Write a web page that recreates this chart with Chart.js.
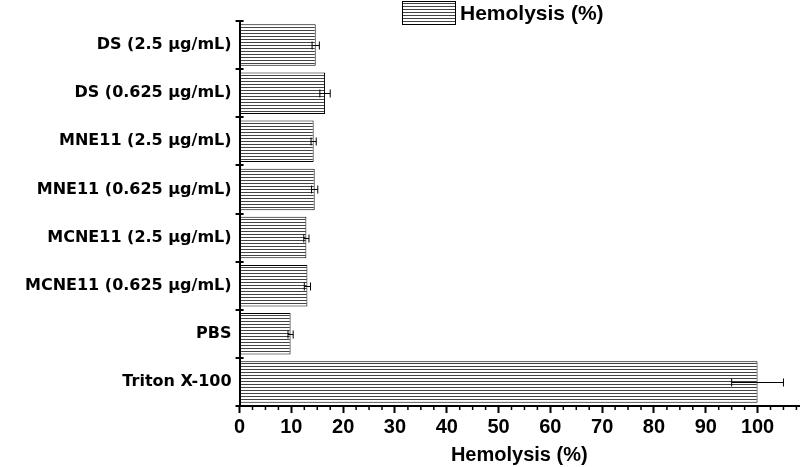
<!DOCTYPE html>
<html>
<head>
<meta charset="utf-8">
<script src="https://cdn.jsdelivr.net/npm/chart.js@4"></script>
<style>
  html, body { margin: 0; padding: 0; background: #fff; }
  #wrap { width: 800px; height: 467px; position: relative; }
</style>
</head>
<body>
<div id="wrap"><canvas id="chart" aria-label="hemolysis bar chart" role="img"></canvas></div>
<script>
// categories, top to bottom
const categories = [
  "DS (2.5 µg/mL)",
  "DS (0.625 µg/mL)",
  "MNE11 (2.5 µg/mL)",
  "MNE11 (0.625 µg/mL)",
  "MCNE11 (2.5 µg/mL)",
  "MCNE11 (0.625 µg/mL)",
  "PBS",
  "Triton X-100"
];
const hemolysis = [14.7, 16.5, 14.3, 14.5, 12.9, 13.1, 9.85, 100];
const errors = [0.7, 1.0, 0.5, 0.6, 0.5, 0.6, 0.5, 5];
const xTicks = [0, 10, 20, 30, 40, 50, 60, 70, 80, 90, 100];
const xMax = 108;

// horizontal hatch fill
function hatch() {
  var c = document.createElement("canvas");
  c.width = 8;
  c.height = 3;
  var g = c.getContext("2d");
  g.fillStyle = "#fff";
  g.fillRect(0, 0, 8, 3);
  g.fillStyle = "#444";
  g.fillRect(0, 0, 8, 1);
  return g.createPattern(c, "repeat");
}
var hatchFill = hatch();

// error bars, minor ticks and legend
var extras = {
  id: "extras",
  afterDatasetsDraw: function (chart) {
    var ctx = chart.ctx;
    var x = chart.scales.x;
    var y = chart.scales.y;
    ctx.save();
    ctx.strokeStyle = "#000";
    ctx.lineWidth = 1;
    hemolysis.forEach(function (v, i) {
      var py = Math.round(y.getPixelForValue(i)) + 0.5;
      var x1 = x.getPixelForValue(v - errors[i]);
      var x2 = x.getPixelForValue(v + errors[i]);
      ctx.beginPath();
      ctx.moveTo(x1, py);
      ctx.lineTo(x2, py);
      ctx.moveTo(x1, py - 4);
      ctx.lineTo(x1, py + 4);
      ctx.moveTo(x2, py - 4);
      ctx.lineTo(x2, py + 4);
      ctx.stroke();
    });
    ctx.restore();
  },
  afterDraw: function (chart) {
    var ctx = chart.ctx;
    var x = chart.scales.x;
    var area = chart.chartArea;
    ctx.save();
    // minor ticks every 2.5
    ctx.strokeStyle = "#000";
    ctx.lineWidth = 1.5;
    ctx.beginPath();
    for (var v = 2.5; v <= xMax; v += 2.5) {
      if (v % 10 === 0) continue;
      var px = x.getPixelForValue(v);
      ctx.moveTo(px, area.bottom);
      ctx.lineTo(px, area.bottom + 4);
    }
    ctx.stroke();
    // y boundary ticks across the axis
    var y = chart.scales.y;
    ctx.lineWidth = 2;
    ctx.beginPath();
    for (var i = 0; i <= categories.length; i++) {
      var py = Math.round(y.getPixelForValue(i - 0.5));
      ctx.moveTo(area.left - 4, py);
      ctx.lineTo(area.left + 4, py);
    }
    ctx.stroke();
    // legend
    var lx = 402, ly = 1, lw = 54, lh = 24;
    ctx.fillStyle = hatchFill;
    ctx.fillRect(lx, ly, lw, lh);
    ctx.lineWidth = 1;
    ctx.strokeRect(lx + 0.5, ly + 0.5, lw - 1, lh - 1);
    ctx.fillStyle = "#000";
    ctx.font = "bold 21px 'Liberation Sans', Arial, sans-serif";
    ctx.textBaseline = "middle";
    ctx.textAlign = "left";
    ctx.fillText(chart.data.datasets[0].label, lx + lw + 4, ly + lh / 2 + 1);
    ctx.restore();
  }
};

var chart = new Chart(document.getElementById("chart").getContext("2d"), {
  type: "bar",
  data: {
    labels: categories,
    datasets: [
      {
        label: "Hemolysis (%)",
        data: hemolysis,
        backgroundColor: hatchFill,
        borderColor: "#000",
        borderWidth: 1,
        borderSkipped: false,
        categoryPercentage: 0.86,
        barPercentage: 1
      }
    ]
  },
  options: {
    indexAxis: "y",
    responsive: true,
    maintainAspectRatio: false,
    animation: false,
    layout: { padding: { top: 21, right: 1, left: 17, bottom: 0 } },
    plugins: {
      legend: { display: false },
      tooltip: { enabled: false }
    },
    scales: {
      x: {
        min: 0,
        max: xMax,
        afterBuildTicks: function (axis) {
          axis.ticks = xTicks.map(function (v) { return { value: v }; });
        },
        grid: {
          drawOnChartArea: false,
          tickLength: 7,
          tickWidth: 2,
          tickColor: "#000"
        },
        border: { color: "#000", width: 2 },
        ticks: {
          color: "#000",
          padding: 2,
          maxRotation: 0,
          font: { family: "'Liberation Sans Narrow', 'Liberation Sans', Arial, sans-serif", size: 20, weight: "bold" }
        },
        title: {
          display: true,
          text: "Hemolysis (%)",
          color: "#000",
          padding: { top: 2, bottom: 0 },
          font: { family: "'Liberation Sans', Arial, sans-serif", size: 20, weight: "bold" }
        }
      },
      y: {
        offset: true,
        grid: {
          display: true,
          drawOnChartArea: false,
          drawTicks: false,
          tickLength: 0
        },
        border: { color: "#000", width: 2 },
        ticks: {
          color: "#000",
          padding: 8,
          font: { family: "'DejaVu Sans', sans-serif", size: 16, weight: "bold" }
        }
      }
    }
  },
  plugins: [extras]
});
</script>
</body>
</html>
